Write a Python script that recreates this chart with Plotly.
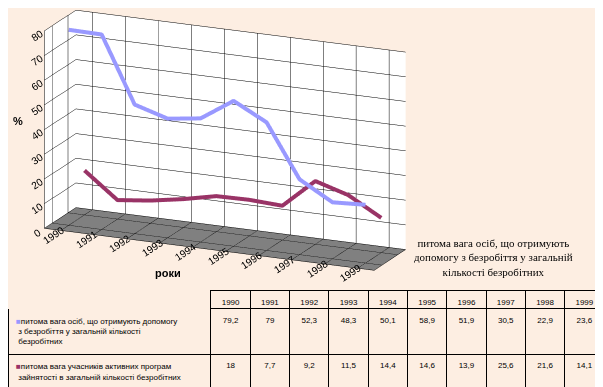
import plotly.graph_objects as go

years = ["1990", "1991", "1992", "1993", "1994", "1995", "1996", "1997", "1998", "1999"]
s1_name = "питома вага осіб, що отримують допомогу з безробіття у загальній кількості безробітних"
s2_name = "питома вага учасників активних програм зайнятості в загальній кількості безробітних"
s1 = [79.2, 79, 52.3, 48.3, 50.1, 58.9, 51.9, 30.5, 22.9, 23.6]
s2 = [18, 7.7, 9.2, 11.5, 14.4, 14.6, 13.9, 25.6, 21.6, 14.1]
y_ticks = [0, 10, 20, 30, 40, 50, 60, 70, 80]

BG = "#FDEEE2"
C1 = "#9999FF"
C2 = "#993366"

xi = list(range(len(years)))

fig = go.Figure()
fig.add_trace(go.Scatter3d(x=xi, y=[0] * len(xi), z=s1, mode="lines",
                           line=dict(color=C1, width=8), name=s1_name, showlegend=False))
fig.add_trace(go.Scatter3d(x=xi, y=[1] * len(xi), z=s2, mode="lines",
                           line=dict(color=C2, width=8), name=s2_name, showlegend=False))

def fmt(v):
    return ("%g" % v).replace(".", ",")

names_cells = [
    "<span style='color:%s'>■</span>питома вага осіб, що отримують допомогу<br> з безробіття у загальній кількості<br> безробітних" % C1,
    "<span style='color:%s'>■</span>питома вага учасників активних програм<br> зайнятості в загальній кількості безробітних" % C2,
]
cols = [names_cells] + [[fmt(a), fmt(b)] for a, b in zip(s1, s2)]

fig.add_trace(go.Table(
    domain=dict(x=[0.0, 0.99], y=[0.0, 0.27]),
    columnwidth=[205] + [39.7] * 10,
    header=dict(values=[""] + years,
                fill_color=BG,
                line=dict(color=[BG] + ["black"] * 10, width=1),
                font=dict(family="Arial", size=8, color="black"),
                align="center", height=18),
    cells=dict(values=cols,
               fill_color=BG,
               line=dict(color="black", width=1),
               font=dict(family="Arial", size=8, color="black"),
               align=["left"] + ["center"] * 10, height=8),
))

axis_common = dict(showbackground=True, gridcolor="black", gridwidth=1,
                   linecolor="black", showline=True, zeroline=False,
                   tickfont=dict(family="Arial", size=11, color="black"),
                   showspikes=False)

fig.update_layout(
    width=603, height=387,
    margin=dict(l=0, r=0, t=0, b=0),
    paper_bgcolor=BG,
    font=dict(family="Arial", color="black"),
    scene=dict(
        domain=dict(x=[0.0, 0.72], y=[0.29, 1.0]),
        xaxis=dict(axis_common, title=dict(text=""), tickvals=xi, ticktext=years,
                   backgroundcolor="white", range=[-0.5, 9.5]),
        yaxis=dict(axis_common, title=dict(text=""), showticklabels=False,
                   tickvals=[0, 1], backgroundcolor="white", range=[-0.5, 1.5]),
        zaxis=dict(axis_common, title=dict(text=""), tickvals=y_ticks,
                   range=[0, 80], backgroundcolor="#808080"),
        aspectmode="manual",
        aspectratio=dict(x=2.62, y=0.57, z=1.5),
        camera=dict(eye=dict(x=0.88, y=-2.0, z=0.62), center=dict(x=0.0, y=0, z=-0.04),
                    projection=dict(type="orthographic")),
        bgcolor=BG,
    ),
    annotations=[
        dict(text="<b>роки</b>", x=160 / 603, y=1 - 265 / 387, xref="paper", yref="paper",
             xanchor="center", yanchor="middle",
             showarrow=False, font=dict(family="Arial", size=11)),
        dict(text="<b>%</b>", x=10 / 603, y=1 - 113 / 387, xref="paper", yref="paper",
             xanchor="center", yanchor="middle",
             showarrow=False, font=dict(family="Arial", size=11)),
        dict(text="питома вага осіб, що отримують<br>допомогу з безробіття у загальній<br>кількості безробітних",
             x=485 / 603, y=1 - 249 / 387, xref="paper", yref="paper", showarrow=False,
             xanchor="center", yanchor="middle",
             font=dict(family="Liberation Serif", size=11), align="center"),
    ],
)

fig.write_html("out.html")
